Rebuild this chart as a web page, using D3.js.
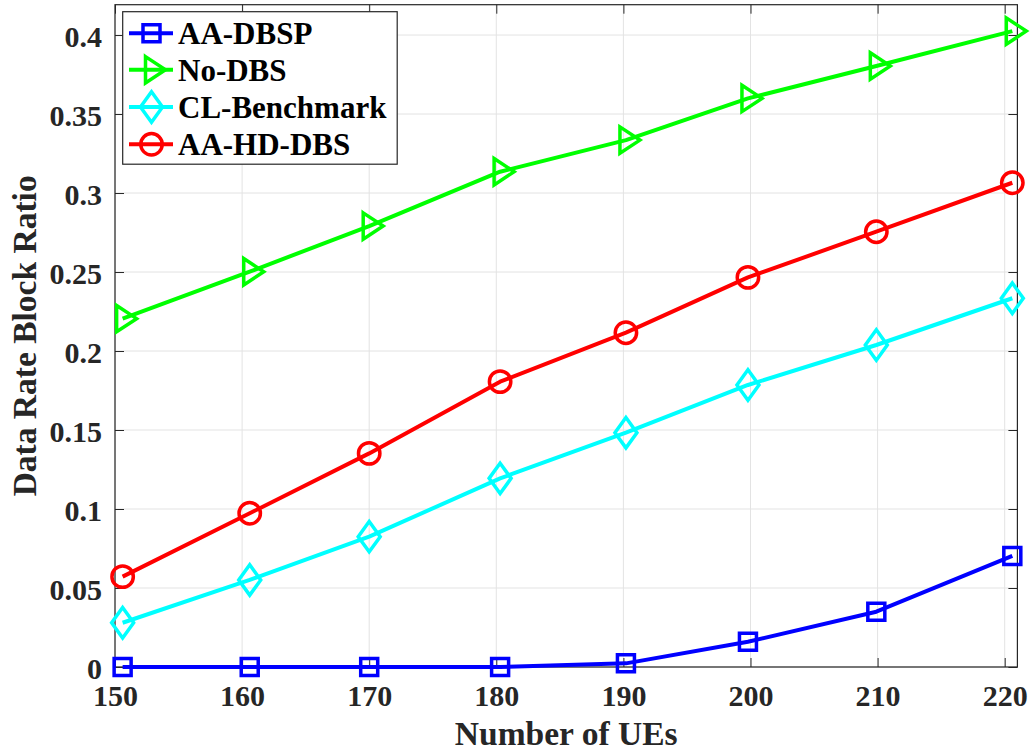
<!DOCTYPE html>
<html>
<head>
<meta charset="utf-8">
<script src="https://cdn.jsdelivr.net/npm/d3@7/dist/d3.min.js"></script>
<style>
  html, body { margin: 0; padding: 0; background: #fff; }
  svg { display: block; }
  text { font-family: "Liberation Serif", "Times New Roman", serif; font-weight: bold; }
</style>
</head>
<body>
<svg id="chart" width="1036" height="755"></svg>
<script>
// ---- data ----
const xValues = [150.6, 160.6, 170.0, 180.3, 190.2, 199.8, 209.9, 220.6];
const seriesNames = ["AA-DBSP", "No-DBS", "CL-Benchmark", "AA-HD-DBS"];
const aaDbsp    = [0, 0, 0, 0, 0.0023, 0.016, 0.035, 0.0703];
const noDbs     = [0.2205, 0.2502, 0.2791, 0.3135, 0.3335, 0.3599, 0.3804, 0.4025];
const clBench   = [0.028, 0.0551, 0.0825, 0.1194, 0.1483, 0.1785, 0.2038, 0.2334];
const aaHdDbs   = [0.0572, 0.0973, 0.1352, 0.1806, 0.2116, 0.2466, 0.2755, 0.3065];
const xTicks = [150, 160, 170, 180, 190, 200, 210, 220];
const yTicks = [0, 0.05, 0.1, 0.15, 0.2, 0.25, 0.3, 0.35, 0.4];
const yTickLabels = ["0", "0.05", "0.1", "0.15", "0.2", "0.25", "0.3", "0.35", "0.4"];
const xLabel = "Number of UEs";
const yLabel = "Data Rate Block Ratio";

const colors = ["#0000ff", "#00ff00", "#00ffff", "#ff0000"];
const markers = ["square", "triangle", "diamond", "circle"];
const seriesValues = [aaDbsp, noDbs, clBench, aaHdDbs];

// ---- layout ----
const L = 115, R = 1017.4, T = 4.7, B = 667;
const svg = d3.select("#chart");
const x = d3.scaleLinear().domain([150, 221]).range([L, R]);
const y = d3.scaleLinear().domain([0, 0.4192]).range([B, T]);
const axisColor = "#262626";
const gridColor = "#e3e3e3";

// grid
const g = svg.append("g");
g.selectAll(".gx").data(xTicks).enter().append("line")
  .attr("x1", d => x(d)).attr("x2", d => x(d)).attr("y1", T).attr("y2", B)
  .attr("stroke", gridColor).attr("stroke-width", 1);
g.selectAll(".gy").data(yTicks).enter().append("line")
  .attr("x1", L).attr("x2", R).attr("y1", d => y(d)).attr("y2", d => y(d))
  .attr("stroke", gridColor).attr("stroke-width", 1);

// axes with d3 axis generators (inward ticks)
const tickLen = 9;
const xAxisB = d3.axisBottom(x).tickValues(xTicks).tickSizeInner(-tickLen).tickSizeOuter(0).tickFormat(d3.format("d"));
const xAxisT = d3.axisTop(x).tickValues(xTicks).tickSizeInner(-tickLen).tickSizeOuter(0).tickFormat("");
const yAxisL = d3.axisLeft(y).tickValues(yTicks).tickSizeInner(-tickLen).tickSizeOuter(0).tickFormat((d, i) => yTickLabels[i]);
const yAxisR = d3.axisRight(y).tickValues(yTicks).tickSizeInner(-tickLen).tickSizeOuter(0).tickFormat("");

function styleAxis(sel) {
  sel.select(".domain").remove();
  sel.selectAll(".tick line").attr("stroke", axisColor).attr("stroke-width", 1);
  sel.selectAll(".tick text").attr("fill", axisColor).style("font-size", "30px")
    .style("font-family", '"Liberation Serif", "Times New Roman", serif').style("font-weight", "bold");
}
const gxB = svg.append("g").attr("transform", `translate(0,${B})`).call(xAxisB).call(styleAxis);
gxB.selectAll(".tick text").attr("y", 39).attr("dy", 0);
svg.append("g").attr("transform", `translate(0,${T})`).call(xAxisT).call(styleAxis);
const gyL = svg.append("g").attr("transform", `translate(${L},0)`).call(yAxisL).call(styleAxis);
gyL.selectAll(".tick text").attr("x", -13).attr("dy", "0.38em");
svg.append("g").attr("transform", `translate(${R},0)`).call(yAxisR).call(styleAxis);

// box
svg.append("rect").attr("x", L).attr("y", T).attr("width", R - L).attr("height", B - T)
  .attr("fill", "none").attr("stroke", axisColor).attr("stroke-width", 1.2);

// markers
function markerPath(type) {
  switch (type) {
    case "square": return "M-8.5,-8.5H8.5V8.5H-8.5Z";
    case "triangle": return "M-6,-13.2L14,0L-6,13.2Z";
    case "diamond": return "M0,-15.2L11,0L0,15.2L-11,0Z";
    case "circle": return "M10.7,0A10.7,10.7 0 1,1 -10.7,0A10.7,10.7 0 1,1 10.7,0Z";
  }
}

const line = d3.line().x(d => x(d[0])).y(d => y(d[1]));
seriesValues.forEach((vals, si) => {
  const pts = xValues.map((xv, i) => [xv, vals[i]]);
  const sg = svg.append("g");
  sg.append("path").attr("d", line(pts)).attr("fill", "none")
    .attr("stroke", colors[si]).attr("stroke-width", 4).attr("stroke-linejoin", "round");
  sg.selectAll("path.m").data(pts).enter().append("path").attr("class", "m")
    .attr("transform", d => `translate(${x(d[0])},${y(d[1])})`)
    .attr("d", markerPath(markers[si]))
    .attr("fill", "none").attr("stroke", colors[si]).attr("stroke-width", 3.5);
});

// legend
const lg = svg.append("g");
lg.append("rect").attr("x", 122.7).attr("y", 11.7).attr("width", 274.5).attr("height", 152.5)
  .attr("fill", "#fff").attr("stroke", axisColor).attr("stroke-width", 1.2);
const legendY = [33.3, 69.8, 107, 144.3];
seriesNames.forEach((name, i) => {
  const cy = legendY[i];
  lg.append("line").attr("x1", 129).attr("x2", 173).attr("y1", cy).attr("y2", cy)
    .attr("stroke", colors[i]).attr("stroke-width", 4);
  lg.append("path").attr("transform", `translate(151.5,${cy})`).attr("d", markerPath(markers[i]))
    .attr("fill", "none").attr("stroke", colors[i]).attr("stroke-width", 3.5);
  lg.append("text").attr("x", 178).attr("y", cy + 11).attr("fill", "#000")
    .style("font-size", "31px").text(name);
});

// axis labels
svg.append("text").attr("x", (L + R) / 2).attr("y", 745).attr("text-anchor", "middle")
  .attr("fill", axisColor).style("font-size", "33.5px").text(xLabel);
svg.append("text").attr("transform", `translate(36,${(T + B) / 2}) rotate(-90)`)
  .attr("text-anchor", "middle").attr("fill", axisColor).style("font-size", "33.5px").text(yLabel);
</script>
</body>
</html>
